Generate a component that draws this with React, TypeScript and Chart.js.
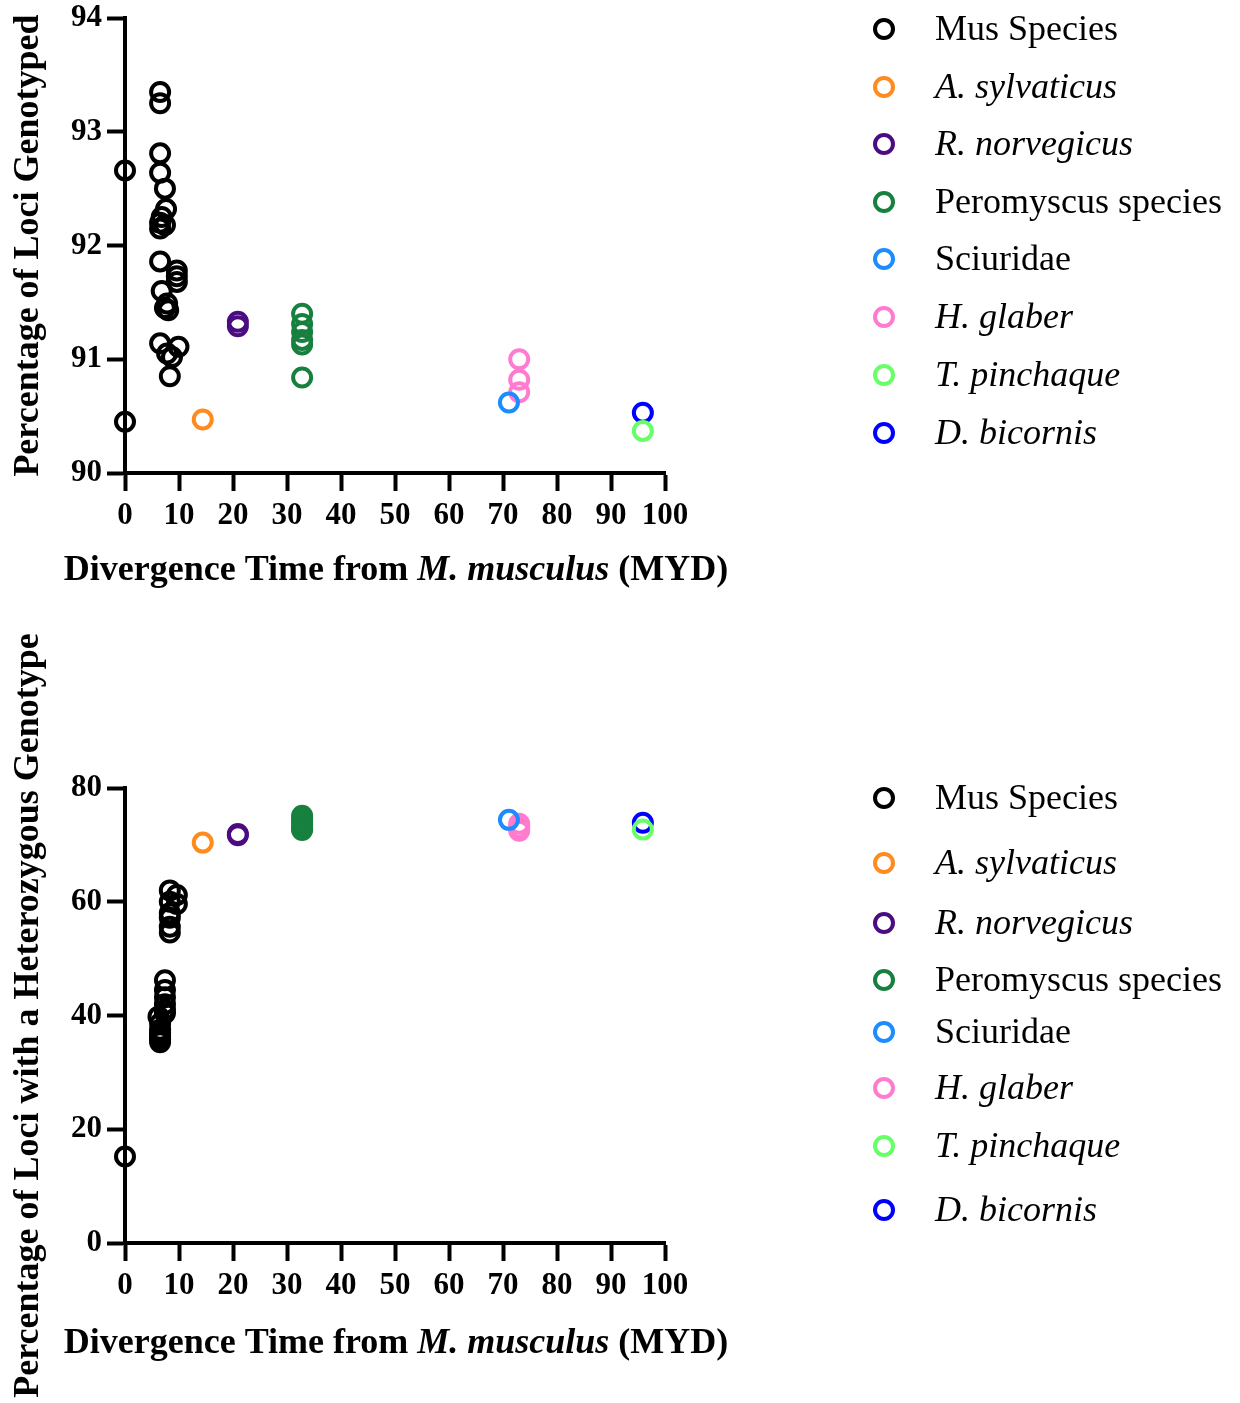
import React, { useEffect, useRef } from 'react';
import { Chart, registerables } from 'chart.js';
Chart.register(...registerables);

// ---------- categories ----------
const speciesNames = [
  'Mus Species',
  'A. sylvaticus',
  'R. norvegicus',
  'Peromyscus species',
  'Sciuridae',
  'H. glaber',
  'T. pinchaque',
  'D. bicornis',
];
const speciesItalic = [false, true, true, false, false, true, true, true];
const speciesColors = ['#000000', '#FF8A1E', '#4B0C82', '#17803F', '#1C8CFF', '#FF7BD0', '#66FF66', '#0000FF'];

// ---------- top chart: Percentage of Loci Genotyped ----------
const musTimeTop = [0, 0, 6.5, 6.5, 6.5, 6.5, 7.4, 7.6, 6.8, 6.5, 7.4, 6.5, 6.5, 9.6, 9.6, 9.6, 6.8, 7.8, 7.4, 8.0, 6.5, 9.9, 7.8, 8.7, 8.3];
const musGenotyped = [92.66, 90.45, 93.35, 93.25, 92.81, 92.64, 92.5, 92.32, 92.25, 92.2, 92.18, 92.15, 91.86, 91.78, 91.73, 91.68, 91.6, 91.49, 91.45, 91.43, 91.14, 91.11, 91.05, 91.02, 90.85];
const sylvaticusTimeTop = [14.4];
const sylvaticusGenotyped = [90.47];
const norvegicusTimeTop = [20.9, 20.9];
const norvegicusGenotyped = [91.33, 91.29];
const peromyscusTimeTop = [32.8, 32.8, 32.8, 32.8, 32.8, 32.8];
const peromyscusGenotyped = [91.4, 91.31, 91.24, 91.17, 91.13, 90.84];
const sciuridaeTimeTop = [71.1];
const sciuridaeGenotyped = [90.62];
const glaberTimeTop = [73, 73, 73];
const glaberGenotyped = [91.0, 90.82, 90.71];
const pinchaqueTimeTop = [95.9];
const pinchaqueGenotyped = [90.37];
const bicornisTimeTop = [95.9];
const bicornisGenotyped = [90.53];

// ---------- bottom chart: Percentage of Loci with a Heterozygous Genotype ----------
const musTimeBottom = [0, 8.3, 9.6, 9.6, 8.3, 8.3, 8.3, 8.3, 8.3, 7.4, 7.4, 7.4, 7.4, 7.4, 7.4, 6.2, 6.5, 6.5, 6.5, 6.5, 6.5, 6.5, 6.5];
const musHeterozygous = [15.2, 62.0, 61.2, 59.6, 60.0, 58.0, 57.2, 55.6, 54.6, 46.2, 44.5, 43.2, 42.0, 41.0, 40.4, 39.8, 38.6, 37.5, 37.0, 36.5, 36.0, 35.8, 35.3];
const sylvaticusTimeBottom = [14.4];
const sylvaticusHeterozygous = [70.4];
const norvegicusTimeBottom = [20.9, 20.9];
const norvegicusHeterozygous = [71.9, 71.7];
const peromyscusTimeBottom = [32.8, 32.8, 32.8, 32.8, 32.8, 32.8];
const peromyscusHeterozygous = [75.1, 74.6, 74.0, 73.4, 72.9, 72.6];
const sciuridaeTimeBottom = [71.1];
const sciuridaeHeterozygous = [74.4];
const glaberTimeBottom = [73, 73, 73];
const glaberHeterozygous = [73.7, 73.0, 72.5];
const pinchaqueTimeBottom = [95.9];
const pinchaqueHeterozygous = [72.7];
const bicornisTimeBottom = [95.9];
const bicornisHeterozygous = [73.9];

// ---------- tick values ----------
const xTicks = [0, 10, 20, 30, 40, 50, 60, 70, 80, 90, 100];
const yTicksTop = [90, 91, 92, 93, 94];
const yTicksBottom = [0, 20, 40, 60, 80];

const topSeries = [
  [musTimeTop, musGenotyped],
  [sylvaticusTimeTop, sylvaticusGenotyped],
  [norvegicusTimeTop, norvegicusGenotyped],
  [peromyscusTimeTop, peromyscusGenotyped],
  [sciuridaeTimeTop, sciuridaeGenotyped],
  [glaberTimeTop, glaberGenotyped],
  [pinchaqueTimeTop, pinchaqueGenotyped],
  [bicornisTimeTop, bicornisGenotyped],
];
const bottomSeries = [
  [musTimeBottom, musHeterozygous],
  [sylvaticusTimeBottom, sylvaticusHeterozygous],
  [norvegicusTimeBottom, norvegicusHeterozygous],
  [peromyscusTimeBottom, peromyscusHeterozygous],
  [sciuridaeTimeBottom, sciuridaeHeterozygous],
  [glaberTimeBottom, glaberHeterozygous],
  [pinchaqueTimeBottom, pinchaqueHeterozygous],
  [bicornisTimeBottom, bicornisHeterozygous],
];

const SERIF = '"Liberation Serif", "Times New Roman", serif';

interface ChartSpec {
  height: number;
  top: number;
  yTitle: string;
  yTicks: number[];
  series: number[][][];
  xTitleOffset: number;
  legendOffsets: number[];
}

const specs: ChartSpec[] = [
  {
    height: 600,
    top: 18,
    yTitle: 'Percentage of Loci Genotyped',
    yTicks: yTicksTop,
    series: topSeries,
    xTitleOffset: 107,
    legendOffsets: [11, 69, 126, 184, 241, 299, 357, 415],
  },
  {
    height: 803,
    top: 188,
    yTitle: 'Percentage of Loci with a Heterozygous Genotype',
    yTicks: yTicksBottom,
    series: bottomSeries,
    xTitleOffset: 110,
    legendOffsets: [10, 75, 135, 192, 244, 300, 358, 422],
  },
];

const PLOT_LEFT = 125;
const PLOT_RIGHT = 665;
const PLOT_H = 455;

function ScatterPanel({ spec }: { spec: ChartSpec }) {
  const ref = useRef<HTMLCanvasElement | null>(null);
  useEffect(() => {
    if (!ref.current) return;
    const datasets = spec.series.map(([xs, ys], i) => ({
      label: speciesNames[i],
      data: xs.map((x, j) => ({ x, y: ys[j] })),
      borderColor: speciesColors[i],
      backgroundColor: 'rgba(0,0,0,0)',
      pointRadius: 9,
      pointHoverRadius: 9,
      pointBorderWidth: 4,
      pointHoverBorderWidth: 4,
      pointStyle: 'circle',
      clip: false as any,
    }));
    const yMin = spec.yTicks[0];
    const yMax = spec.yTicks[spec.yTicks.length - 1];
    const overlay = {
      id: 'overlay',
      afterDraw(chart: any) {
        const ctx = chart.ctx as CanvasRenderingContext2D;
        const area = chart.chartArea;
        ctx.save();
        // x title with italic species name
        const segs = [
          { t: 'Divergence Time from ', it: false },
          { t: 'M. musculus', it: true },
          { t: ' (MYD)', it: false },
        ];
        const fontFor = (it: boolean) => `${it ? 'italic ' : ''}bold 36px ${SERIF}`;
        let total = 0;
        segs.forEach((s) => {
          ctx.font = fontFor(s.it);
          total += ctx.measureText(s.t).width;
        });
        let x = (area.left + area.right) / 2 + 1 - total / 2;
        const by = area.bottom + spec.xTitleOffset;
        ctx.fillStyle = '#000';
        ctx.textBaseline = 'alphabetic';
        ctx.textAlign = 'left';
        segs.forEach((s) => {
          ctx.font = fontFor(s.it);
          ctx.fillText(s.t, x, by);
          x += ctx.measureText(s.t).width;
        });
        // y title
        ctx.save();
        ctx.translate(38, (area.top + area.bottom) / 2);
        ctx.rotate(-Math.PI / 2);
        ctx.font = `bold 36px ${SERIF}`;
        ctx.textAlign = 'center';
        ctx.textBaseline = 'alphabetic';
        ctx.fillText(spec.yTitle, 0, 0);
        ctx.restore();
        // legend
        chart.data.datasets.forEach((ds: any, i: number) => {
          const cy = area.top + spec.legendOffsets[i];
          ctx.beginPath();
          ctx.arc(884, cy, 9, 0, Math.PI * 2);
          ctx.lineWidth = 4;
          ctx.strokeStyle = ds.borderColor;
          ctx.stroke();
          ctx.font = `${speciesItalic[i] ? 'italic ' : ''}36px ${SERIF}`;
          ctx.fillStyle = '#000';
          ctx.textAlign = 'left';
          ctx.textBaseline = 'alphabetic';
          ctx.fillText(ds.label, 935, cy + 11);
        });
        ctx.restore();
      },
    };
    const chart = new Chart(ref.current, {
      type: 'scatter',
      data: { datasets },
      plugins: [overlay],
      options: {
        responsive: false,
        animation: false,
        events: [],
        layout: {
          padding: {
            left: 0,
            top: spec.top,
            right: 1240 - PLOT_RIGHT,
            bottom: 0,
          },
        },
        plugins: {
          legend: { display: false },
          tooltip: { enabled: false },
          title: { display: false },
        },
        scales: {
          x: {
            type: 'linear',
            min: 0,
            max: 100,
            afterBuildTicks: (s: any) => {
              s.ticks = xTicks.map((v) => ({ value: v }));
            },
            afterFit: (s: any) => {
              s.height = spec.height - spec.top - PLOT_H;
              s.paddingLeft = 0;
              s.paddingRight = 0;
            },
            grid: {
              drawOnChartArea: false,
              drawTicks: true,
              tickLength: 18,
              tickWidth: 4,
              tickColor: '#000',
            },
            border: { display: true, color: '#000', width: 4 },
            ticks: {
              color: '#000',
              padding: 6,
              maxRotation: 0,
              autoSkip: false,
              font: { family: SERIF, size: 31, weight: 'bold' },
            },
          },
          y: {
            type: 'linear',
            min: yMin,
            max: yMax,
            afterBuildTicks: (s: any) => {
              s.ticks = spec.yTicks.map((v) => ({ value: v }));
            },
            afterFit: (s: any) => {
              s.width = PLOT_LEFT;
              s.paddingTop = 0;
              s.paddingBottom = 0;
            },
            grid: {
              drawOnChartArea: false,
              drawTicks: true,
              tickLength: 18,
              tickWidth: 4,
              tickColor: '#000',
            },
            border: { display: true, color: '#000', width: 4 },
            ticks: {
              color: '#000',
              padding: 5,
              autoSkip: false,
              font: { family: SERIF, size: 31, weight: 'bold' },
            },
          },
        },
      } as any,
    });
    return () => chart.destroy();
  }, [spec]);
  return <canvas ref={ref} width={1240} height={spec.height} style={{ display: 'block' }} />;
}

export default function App() {
  return (
    <div style={{ position: 'absolute', left: 0, top: 0, width: 1240, height: 1403, background: '#fff' }}>
      {specs.map((s, i) => (
        <ScatterPanel key={i} spec={s} />
      ))}
    </div>
  );
}
